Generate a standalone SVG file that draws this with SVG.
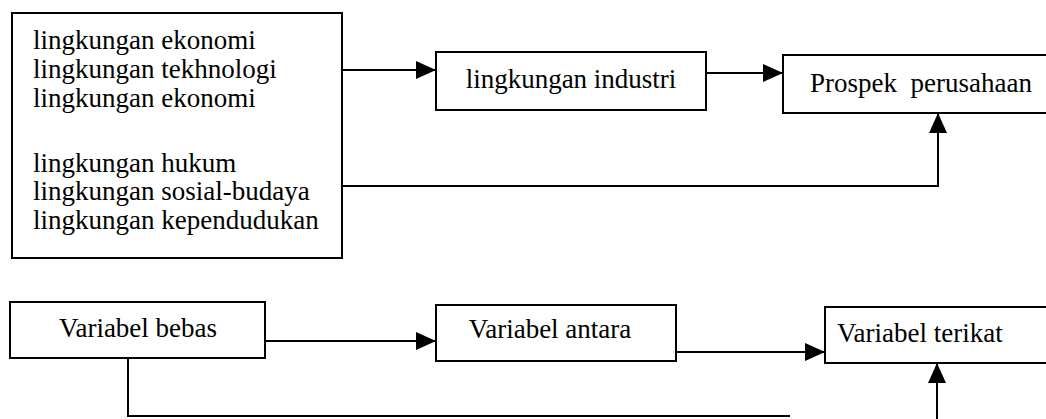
<svg xmlns="http://www.w3.org/2000/svg" width="1046" height="419" viewBox="0 0 1046 419">
<style>
.box{fill:#fff;stroke:#000;stroke-width:2}
.t{font-family:"Liberation Serif","Times New Roman",serif;font-size:27px;fill:#000}
.c{fill:none;stroke:#000;stroke-width:2}
</style>
<defs>
<marker id="ah" markerUnits="userSpaceOnUse" markerWidth="20" markerHeight="18" refX="20" refY="9" orient="auto">
<path d="M0,0 L20,9 L0,18 z" fill="#000"/>
</marker>
</defs>
<rect width="1046" height="419" fill="#fff"/>
<g id="lingkungan-makro">
<rect class="box" x="12" y="13" width="330" height="245"/>
<text class="t" x="33" y="49">lingkungan ekonomi</text>
<text class="t" x="33" y="78">lingkungan tekhnologi</text>
<text class="t" x="33" y="107">lingkungan ekonomi</text>
<text class="t" x="33" y="172">lingkungan hukum</text>
<text class="t" x="33" y="200">lingkungan sosial-budaya</text>
<text class="t" x="33" y="229">lingkungan kependudukan</text>
</g>
<g id="lingkungan-industri">
<rect class="box" x="436" y="52" width="270" height="58"/>
<text class="t" x="571" y="88" text-anchor="middle">lingkungan industri</text>
</g>
<g id="prospek-perusahaan">
<rect class="box" x="783" y="55" width="270" height="58"/>
<text class="t" x="810" y="92" xml:space="preserve">Prospek  perusahaan</text>
</g>
<g id="variabel-bebas">
<rect class="box" x="10" y="302" width="255" height="56"/>
<text class="t" x="138" y="337" text-anchor="middle">Variabel bebas</text>
</g>
<g id="variabel-antara">
<rect class="box" x="436" y="305" width="240" height="56"/>
<text class="t" x="550" y="338" text-anchor="middle">Variabel antara</text>
</g>
<g id="variabel-terikat">
<rect class="box" x="825" y="307" width="230" height="56"/>
<text class="t" x="837" y="342">Variabel terikat</text>
</g>
<g id="connectors">
<path class="c" d="M342,70 H436" marker-end="url(#ah)"/>
<path class="c" d="M706,73 H783" marker-end="url(#ah)"/>
<path class="c" d="M342,186 H938 V113" marker-end="url(#ah)"/>
<path class="c" d="M265,341 H436" marker-end="url(#ah)"/>
<path class="c" d="M676,352 H825" marker-end="url(#ah)"/>
<path class="c" d="M128,358 V416 H790"/>
<path class="c" d="M937,419 V363" marker-end="url(#ah)"/>
</g>
</svg>
